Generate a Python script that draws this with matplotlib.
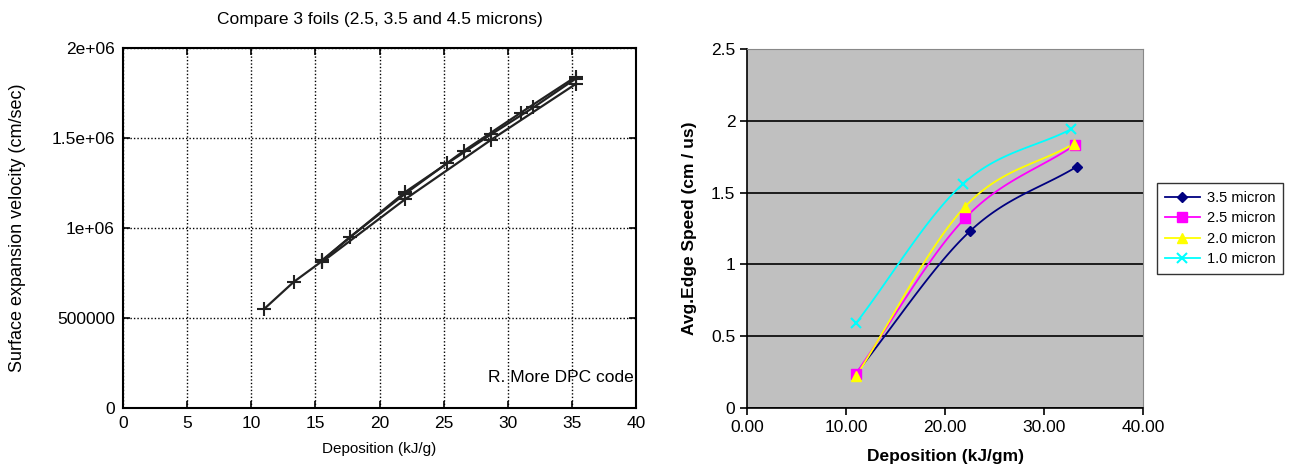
import numpy as np
import matplotlib
matplotlib.use("Agg")
import matplotlib.pyplot as plt

plt.rcParams['font.family'] = ['Liberation Sans', 'DejaVu Sans']

# left panel: R. More DPC code, three foils
foil_a_x = [11.0, 13.3, 15.5, 17.7, 22.0, 26.6, 31.0, 35.3]
foil_a_y = [550000, 700000, 815000, 950000, 1190000, 1430000, 1640000, 1840000]
foil_b_x = [15.5, 22.0, 28.7, 35.3]
foil_b_y = [810000, 1160000, 1490000, 1800000]
foil_c_x = [15.5, 22.0, 25.3, 28.7, 32.0, 35.3]
foil_c_y = [820000, 1200000, 1360000, 1520000, 1670000, 1830000]

# right panel: measured edge speed
dep = {
    '3.5 micron': [11.0, 22.5, 33.3],
    '2.5 micron': [11.0, 22.0, 33.1],
    '2.0 micron': [11.0, 22.0, 33.0],
    '1.0 micron': [11.0, 21.8, 32.7],
}
speed = {
    '3.5 micron': [0.24, 1.23, 1.68],
    '2.5 micron': [0.24, 1.32, 1.83],
    '2.0 micron': [0.22, 1.40, 1.84],
    '1.0 micron': [0.59, 1.56, 1.94],
}
colors = {'3.5 micron': '#000080', '2.5 micron': '#FF00FF',
          '2.0 micron': '#FFFF00', '1.0 micron': '#00FFFF'}
markers = {'3.5 micron': 'D', '2.5 micron': 's', '2.0 micron': '^', '1.0 micron': 'x'}


def smooth(x, y, n=40):
    # catmull-rom through the points, like Excel's smoothed line
    x = np.asarray(x, float)
    y = np.asarray(y, float)
    px = np.concatenate([[2 * x[0] - x[1]], x, [2 * x[-1] - x[-2]]])
    py = np.concatenate([[2 * y[0] - y[1]], y, [2 * y[-1] - y[-2]]])
    xs, ys = [], []
    t = np.linspace(0, 1, n)
    for i in range(1, len(px) - 2):
        for p, out in ((px, xs), (py, ys)):
            p0, p1, p2, p3 = p[i - 1], p[i], p[i + 1], p[i + 2]
            out.extend(0.5 * (2 * p1 + (-p0 + p2) * t
                              + (2 * p0 - 5 * p1 + 4 * p2 - p3) * t ** 2
                              + (-p0 + 3 * p1 - 3 * p2 + p3) * t ** 3))
    return xs, ys


fig = plt.figure(figsize=(13.13, 4.68), dpi=100)

ax1 = fig.add_axes([0.0937, 0.1282, 0.3907, 0.7692])
for xs, ys in ((foil_a_x, foil_a_y), (foil_b_x, foil_b_y), (foil_c_x, foil_c_y)):
    ax1.plot(xs, ys, color='#222222', lw=1.6, marker='+', ms=10, mew=1.5)
ax1.set_xlim(0, 40)
ax1.set_ylim(0, 2000000)
ax1.set_xticks(range(0, 41, 5))
ax1.set_yticks([0, 500000, 1000000, 1500000, 2000000])
ax1.set_yticklabels(['0', '500000', '1e+06', '1.5e+06', '2e+06'])
ax1.grid(True, color='black', ls=(0, (1, 1.5)), lw=1.0)
ax1.tick_params(direction='in', length=5, labelsize=12.5, top=True, right=True,
                width=1.2, pad=6)
for s in ax1.spines.values():
    s.set_linewidth(1.5)
ax1.set_title('Compare 3 foils (2.5, 3.5 and 4.5 microns)', fontsize=12.5, pad=17)
ax1.set_xlabel('Deposition (kJ/g)', fontsize=11, labelpad=8)
ax1.set_ylabel('Surface expansion velocity (cm/sec)', fontsize=13, labelpad=18)
ax1.text(39.8, 170000, 'R. More DPC code', fontsize=12.5, ha='right', va='center')

ax2 = fig.add_axes([0.569, 0.1282, 0.3015, 0.7671])
ax2.set_facecolor('#C0C0C0')
for name in dep:
    sx, sy = smooth(dep[name], speed[name])
    ax2.plot(sx, sy, color=colors[name], lw=1.3, zorder=3)
    mk = dict(color=colors[name], marker=markers[name], ms=6.5, lw=1.3)
    if markers[name] == 'D':
        mk['ms'] = 5.5
    if markers[name] == 'x':
        mk['mew'] = 1.5
    ax2.plot(dep[name], speed[name], ls='none', zorder=4, **mk)
    ax2.plot([], [], label=name, **mk)
ax2.set_xlim(0, 40)
ax2.set_ylim(0, 2.5)
ax2.set_xticks([0, 10, 20, 30, 40])
ax2.set_xticklabels(['0.00', '10.00', '20.00', '30.00', '40.00'])
ax2.set_yticks([0, 0.5, 1, 1.5, 2, 2.5])
ax2.set_yticklabels(['0', '0.5', '1', '1.5', '2', '2.5'])
ax2.yaxis.grid(True, color='black', lw=1.2)
ax2.set_axisbelow(True)
ax2.tick_params(direction='out', length=5, labelsize=12.5, width=1.2)
ax2.spines['left'].set_linewidth(1.2)
ax2.spines['bottom'].set_linewidth(1.2)
ax2.spines['top'].set_color('#888888')
ax2.spines['right'].set_color('#888888')
ax2.set_xlabel('Deposition (kJ/gm)', fontsize=12.5, fontweight='bold', labelpad=10)
ax2.set_ylabel('Avg.Edge Speed (cm / us)', fontsize=12.5, fontweight='bold', labelpad=10)
leg = ax2.legend(loc='center left', bbox_to_anchor=(1.018, 0.50), fontsize=10.5,
                 frameon=True, fancybox=False, edgecolor='black', handlelength=2.4,
                 borderpad=0.5, labelspacing=0.45, handletextpad=0.5)
leg.get_frame().set_linewidth(1.0)

fig.savefig('out.png', dpi=100)
